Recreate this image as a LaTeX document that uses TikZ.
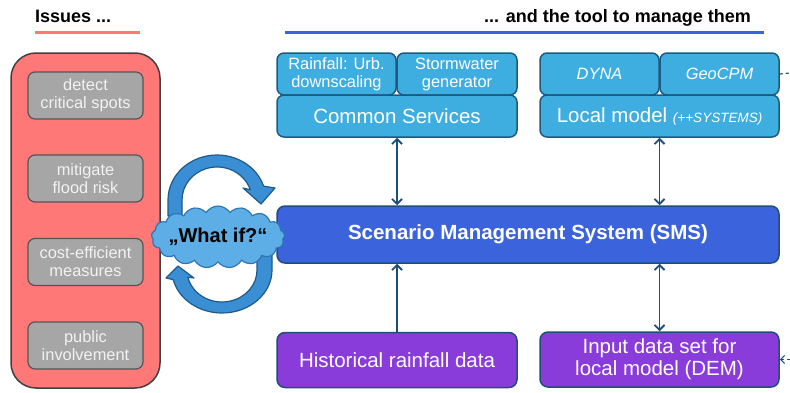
\documentclass[tikz,border=0pt]{standalone}
\usepackage{fontspec}
\setmainfont{Liberation Sans}
\usetikzlibrary{shapes.symbols,arrows.meta}
\definecolor{redfill}{HTML}{FF7878}
\definecolor{redbd}{HTML}{404040}
\definecolor{grayfill}{HTML}{A6A6A6}
\definecolor{graybd}{HTML}{555555}
\definecolor{graytext}{HTML}{F2F2F2}
\definecolor{lightblue}{HTML}{3DAEDF}
\definecolor{bluebd}{HTML}{1C5A80}
\definecolor{smsfill}{HTML}{3B63DB}
\definecolor{purplefill}{HTML}{8A3CDB}
\definecolor{linkcol}{HTML}{1F4E79}
\definecolor{cloudfill}{HTML}{5DAEE6}
\definecolor{cloudbd}{HTML}{2E75B6}
\definecolor{arrowfill}{HTML}{3A8FD4}
\definecolor{arrowbd}{HTML}{1F5A8A}
\begin{document}
\begin{tikzpicture}[x=1pt,y=1pt,
  issue/.style={draw=graybd, fill=grayfill, rounded corners=7pt, line width=1.2pt,
    minimum width=115pt, minimum height=47pt, text=graytext, align=center,
    inner sep=0pt, font=\fontsize{16.4}{18}\selectfont},
  svc/.style={draw=bluebd, fill=lightblue, rounded corners=7pt, line width=1.5pt,
    minimum height=42pt, text=white, align=center, inner sep=0pt},
  smallf/.style={font=\fontsize{16.4}{18}\selectfont},
  bigf/.style={font=\fontsize{20.5}{22}\selectfont},
  databox/.style={draw=linkcol, fill=purplefill, rounded corners=8pt, line width=1.5pt,
    text=white, align=center, inner sep=0pt, bigf},
  link/.style={draw=linkcol, line width=1.8pt},
  tip/.tip={Straight Barb[length=5pt,width=10pt,line width=1.8pt]},
  curvy/.style={fill=arrowfill, draw=arrowbd, line width=1.2pt, line join=round}
]
\useasboundingbox (0,0) rectangle (790,392);

% headers
\node[anchor=base west, inner sep=0pt, font=\fontsize{18}{20}\selectfont\bfseries] (hl) at (35,370) {Issues ...};
\node[anchor=base east, inner sep=0pt, font=\fontsize{18}{20}\selectfont\bfseries] (hr) at (751,370) {... and the tool to manage them};
\coordinate (rl1) at (35,359); \coordinate (rl2) at (140,359);
\coordinate (bl1) at (285,359); \coordinate (bl2) at (764,359);
\draw[redfill, line width=3pt] (rl1) -- (rl2);
\draw[smsfill, line width=3pt] (bl1) -- (bl2);

% issues panel
\node[draw=redbd, fill=redfill, rounded corners=25pt, line width=1.5pt,
  minimum width=149pt, minimum height=335pt, inner sep=0pt] (panel) at (85.5,171.5) {};
\node[issue] (i1) at (85.5,296.5) {detect\\critical spots};
\node[issue] (i2) at (85.5,213.5) {mitigate\\flood risk};
\node[issue] (i3) at (85.5,130) {cost-efficient\\measures};
\node[issue] (i4) at (85.5,46.5) {public\\involvement};

% tool boxes
\node[svc, smallf, minimum width=119pt] (rain) at (336.5,318) {Rainfall: Urb.\\downscaling};
\node[svc, smallf, minimum width=120pt] (storm) at (457,318) {Stormwater\\generator};
\node[svc, bigf, minimum width=240pt] (cs) at (397,276) {Common Services};
\node[svc, smallf, minimum width=119pt] (dyna) at (599.5,318) {\itshape DYNA};
\node[svc, smallf, minimum width=119pt] (geo) at (719.5,318) {\itshape GeoCPM};
\node[svc, bigf, minimum width=239pt] (lm) at (659.5,276) {Local model {\fontsize{13.5}{14}\selectfont\itshape (++SYSTEMS)}};

\node[draw=linkcol, fill=smsfill, rounded corners=8pt, line width=1.5pt,
  minimum width=502pt, minimum height=57pt, inner sep=0pt, text=white,
  font=\fontsize{20.5}{22}\selectfont\bfseries] (sms) at (528,157.5) {Scenario Management System (SMS)};

\node[databox, minimum width=240pt, minimum height=55pt] (hist) at (397,32) {Historical rainfall data};
\node[databox, minimum width=239pt, minimum height=55pt] (inp) at (659.5,32.5) {Input data set for\\local model (DEM)};

% connectors
\draw[link, {tip}-{tip}] (cs.south) -- (cs.south |- sms.north);
\draw[link, {tip}-{tip}] (lm.south) -- (lm.south |- sms.north);
\draw[link, -{tip}] (hist.north) -- (hist.north |- sms.south);
\draw[link, {tip}-{tip}] (inp.north) -- (inp.north |- sms.south);
\coordinate (r1) at (790,319);
\coordinate (r2) at (790,32.5);
\draw[linkcol, line width=1.2pt, dashed] (geo.east) -- (r1);
\draw[linkcol, line width=1.2pt, dashed, -{Straight Barb[length=4pt,width=8pt]}] (r2) -- (inp.east);

% circular arrows
\path[curvy] (168,176) -- (168,192)
  arc[start angle=180, end angle=18, x radius=49pt, y radius=45pt]
  -- (275,204) -- (261,188) -- (243,204) -- (250.3,202.2)
  arc[start angle=18, end angle=180, x radius=35pt, y radius=33pt]
  -- (182,176) -- cycle;
\path[curvy] (272,138) -- (272,122)
  arc[start angle=0, end angle=-167, x radius=50pt, y radius=43pt]
  -- (166,114) -- (178,126) -- (194,114) -- (187.9,114.8)
  arc[start angle=-167, end angle=0, x radius=35pt, y radius=32pt]
  -- (257,138) -- cycle;

% cloud
\node[cloud, cloud puffs=17, cloud puff arc=115, aspect=2.2, draw=cloudbd, fill=cloudfill,
  line width=1.2pt, minimum width=133pt, minimum height=62pt, inner sep=0pt,
  label={[font=\fontsize{20}{22}\selectfont\bfseries, inner sep=0pt]center:„What if?“}]
  (whatif) at (218,155) {};
\end{tikzpicture}
\end{document}
